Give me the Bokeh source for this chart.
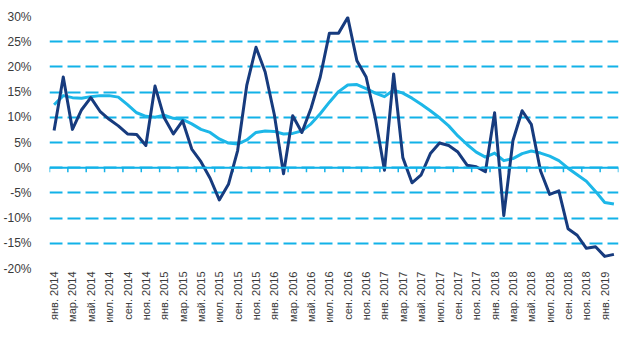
from bokeh.plotting import figure
from bokeh.models import (ColumnDataSource, FixedTicker, PrintfTickFormatter, Span,
                          Legend, LegendItem)
from bokeh.embed import file_html
from bokeh.resources import INLINE
import math

# Monthly data, Jan 2014 .. Feb 2019 (62 months)
month_index = list(range(62))
car_sales_yoy = [7.4, 18.0, 7.6, 11.5, 13.9, 11.2, 9.6, 8.3, 6.7, 6.6, 4.4, 16.2,
                 9.9, 6.7, 9.3, 3.7, 1.2, -2.1, -6.4, -3.3, 3.4, 16.4, 23.9, 19.0,
                 10.5, -1.2, 10.3, 7.0, 11.8, 18.0, 26.7, 26.7, 29.8, 21.2, 18.0, 9.9,
                 -0.5, 18.6, 2.0, -3.0, -1.4, 2.8, 4.9, 4.4, 3.1, 0.5, 0.2, -0.8,
                 10.9, -9.5, 5.4, 11.3, 8.6, -0.6, -5.3, -4.6, -12.1, -13.4, -16.0, -15.7,
                 -17.6, -17.2]
car_sales_12m = [12.5, 14.3, 13.9, 13.8, 14.1, 14.3, 14.3, 14.0, 12.5, 10.9, 10.2, 10.0,
                 10.4, 9.8, 9.6, 8.7, 7.6, 7.0, 5.7, 4.9, 4.7, 5.5, 7.0, 7.3,
                 7.2, 6.7, 6.8, 7.3, 8.7, 10.7, 13.0, 15.1, 16.4, 16.5, 15.7, 14.8,
                 14.1, 15.4, 14.8, 13.8, 12.6, 11.3, 9.9, 8.3, 6.3, 4.6, 3.1, 2.1,
                 2.9, 1.4, 1.8, 2.8, 3.3, 2.9, 2.3, 1.4, -0.1, -1.4, -2.7, -4.7,
                 -6.9, -7.2]
tick_labels = ["янв. 2014", "мар. 2014", "май. 2014", "июл. 2014", "сен. 2014", "ноя. 2014",
               "янв. 2015", "мар. 2015", "май. 2015", "июл. 2015", "сен. 2015", "ноя. 2015",
               "янв. 2016", "мар. 2016", "май. 2016", "июл. 2016", "сен. 2016", "ноя. 2016",
               "янв. 2017", "мар. 2017", "май. 2017", "июл. 2017", "сен. 2017", "ноя. 2017",
               "янв. 2018", "мар. 2018", "май. 2018", "июл. 2018", "сен. 2018", "ноя. 2018",
               "янв. 2019"]
y_ticks = [-20, -15, -10, -5, 0, 5, 10, 15, 20, 25, 30]
series_names = ["Car sales, YoY", "Car sales, 12m trailing, YoY"]

DARK = "#173B7E"
LIGHT = "#1DB7E8"
GRID = "#12B2E8"
TEXT = "#3A3A3A"
FONT = "Liberation Sans"

src = ColumnDataSource(dict(x=month_index, yoy=car_sales_yoy, t12=car_sales_12m))

n = len(month_index)
p = figure(frame_width=569, frame_height=252, output_backend="svg", toolbar_location=None,
           x_range=(-0.5, n - 0.5), y_range=(-20, 30),
           min_border_left=49, min_border_right=2, min_border_top=16,
           min_border_bottom=0)
p.outline_line_color = None
p.background_fill_color = "white"
p.border_fill_color = "white"

# grid
p.xgrid.grid_line_color = None
p.ygrid.ticker = FixedTicker(ticks=y_ticks)
p.ygrid.grid_line_color = GRID
p.ygrid.grid_line_width = 2
p.ygrid.grid_line_dash = "13 5"

# zero line with tick marks
p.add_layout(Span(location=0, dimension="width", line_color=GRID, line_width=2))
tick_pos = [i - 0.5 for i in month_index[::2]] + [n - 0.5]
p.segment(x0=tick_pos, x1=tick_pos, y0=[0] * len(tick_pos), y1=[-0.9] * len(tick_pos),
          line_color=GRID, line_width=1.5)

# axes
p.yaxis.ticker = FixedTicker(ticks=y_ticks)
p.yaxis.formatter = PrintfTickFormatter(format="%d%%")
p.yaxis.axis_line_color = None
p.yaxis.major_tick_line_color = None
p.yaxis.minor_tick_line_color = None
p.yaxis.major_label_text_font = FONT
p.yaxis.major_label_text_font_size = "12px"
p.yaxis.major_label_text_color = TEXT
p.yaxis.major_label_standoff = 12

p.xaxis.ticker = FixedTicker(ticks=month_index[::2])
p.xaxis.major_label_overrides = {i: lab for i, lab in zip(month_index[::2], tick_labels)}
p.xaxis.major_label_orientation = math.pi / 2
p.xaxis.axis_line_color = None
p.xaxis.major_tick_line_color = None
p.xaxis.minor_tick_line_color = None
p.xaxis.major_tick_out = 0
p.xaxis.major_tick_in = 0
p.xaxis.major_label_text_font = FONT
p.xaxis.major_label_text_font_size = "11px"
p.xaxis.major_label_text_color = TEXT
p.xaxis.major_label_standoff = 3

r2 = p.line("x", "t12", source=src, line_color=LIGHT, line_width=3, line_join="round")
r1 = p.line("x", "yoy", source=src, line_color=DARK, line_width=3, line_join="round")

legend = Legend(items=[LegendItem(label=series_names[0], renderers=[r1]),
                       LegendItem(label=series_names[1], renderers=[r2])],
                orientation="horizontal", location=(91, 0),
                label_text_font=FONT, label_text_font_size="12px",
                label_text_color=TEXT, glyph_width=36, glyph_height=12,
                label_height=14, label_standoff=4, spacing=22, padding=0, margin=0,
                border_line_color=None, background_fill_alpha=0)
p.add_layout(legend, "below")

open("out.html", "w").write(file_html(p, INLINE))
